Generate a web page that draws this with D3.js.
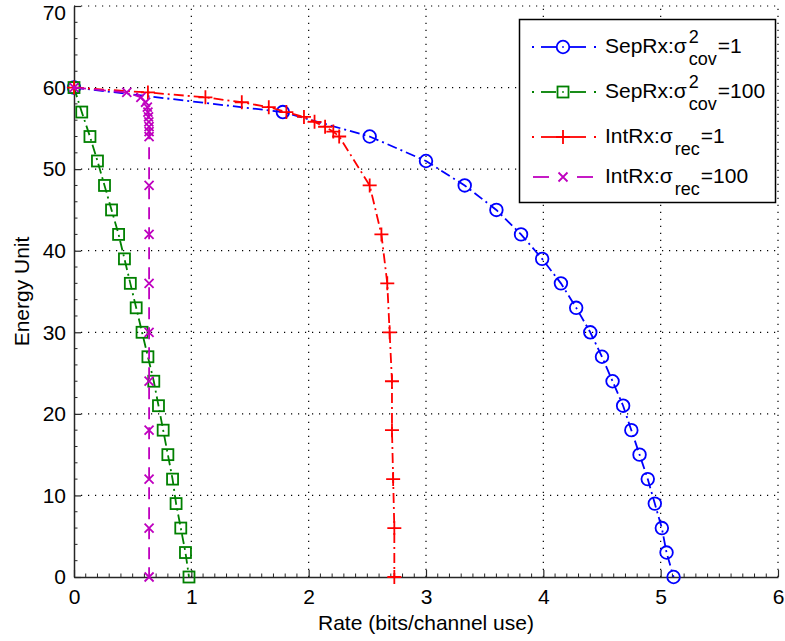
<!DOCTYPE html>
<html>
<head>
<meta charset="utf-8">
<script src="https://cdn.jsdelivr.net/npm/d3@7"></script>
<style>
  html, body { margin: 0; padding: 0; background: #fff; }
  svg { display: block; font-family: "Liberation Sans", Arial, Helvetica, sans-serif; }
</style>
</head>
<body>
<svg id="chart" width="785" height="641"></svg>
<script>
// Energy levels for the separate-receiver curves (step 3)
const energySep = [60,57,54,51,48,45,42,39,36,33,30,27,24,21,18,15,12,9,6,3,0];
// Energy levels for the integrated-receiver curves
const energyInt = [60,59.4,58.8,58.2,57.6,57,56.4,55.8,55.2,54.6,54,48,42,36,30,24,18,12,6,0];

const rateSep1   = [0,1.78,2.52,3.0,3.33,3.60,3.81,3.99,4.15,4.28,4.40,4.50,4.59,4.68,4.75,4.82,4.89,4.95,5.01,5.05,5.11];
const rateSep100 = [0,0.066,0.136,0.20,0.26,0.32,0.38,0.43,0.48,0.53,0.58,0.63,0.68,0.72,0.76,0.80,0.84,0.87,0.91,0.95,0.98];
const rateInt1   = [0,0.63,1.12,1.43,1.66,1.81,1.96,2.05,2.14,2.21,2.26,2.52,2.62,2.67,2.69,2.71,2.71,2.72,2.73,2.73];
const rateInt100 = [0,0.45,0.57,0.61,0.625,0.63,0.635,0.638,0.64,0.64,0.64,0.64,0.64,0.64,0.64,0.64,0.64,0.64,0.64,0.64];

const xTicks = [0,1,2,3,4,5,6];
const yTicks = [0,10,20,30,40,50,60,70];

const series = [
  { name: "SepRx", sup: "2", sub: "cov", tail: "=1",   rates: rateSep1,   energy: energySep, color: "#0000ff", marker: "circle", dash: "10,4,2,4", legendStyle: "dashdot" },
  { name: "SepRx", sup: "2", sub: "cov", tail: "=100", rates: rateSep100, energy: energySep, color: "#008000", marker: "square", dash: "10,4,2,4", legendStyle: "dashdot" },
  { name: "IntRx", sup: null, sub: "rec", tail: "=1",   rates: rateInt1,   energy: energyInt, color: "#ff0000", marker: "plus",   dash: "10,4,2,4", legendStyle: "dashdot" },
  { name: "IntRx", sup: null, sub: "rec", tail: "=100", rates: rateInt100, energy: energyInt, color: "#bf00bf", marker: "cross",  dash: "12,8",     legendStyle: "dash" }
];

const svg = d3.select("#chart");
const x = d3.scaleLinear().domain([0, 6]).range([74, 778]);
const y = d3.scaleLinear().domain([0, 70]).range([577, 6]);

// dotted grid
const grid = svg.append("g").attr("stroke", "#000").attr("stroke-width", 1.2).attr("stroke-dasharray", "1.2,5.8");
grid.selectAll("line.gx").data(xTicks.slice(1)).join("line")
  .attr("x1", d => x(d)).attr("x2", d => x(d)).attr("y1", y(0)).attr("y2", y(70));
grid.selectAll("line.gy").data(yTicks.slice(1)).join("line")
  .attr("x1", x(0)).attr("x2", x(6)).attr("y1", d => y(d)).attr("y2", d => y(d));

// axes: ticks pointing inward
const axisColor = "#262626";
const xAxis = svg.append("g").attr("transform", `translate(0,${y(0)})`)
  .call(d3.axisBottom(x).tickValues(xTicks).tickSizeInner(-7).tickSizeOuter(0).tickPadding(12).tickFormat(d3.format("d")));
const yAxis = svg.append("g").attr("transform", `translate(${x(0)},0)`)
  .call(d3.axisLeft(y).tickValues(yTicks).tickSizeInner(-7).tickSizeOuter(0).tickPadding(8).tickFormat(d3.format("d")));
[xAxis, yAxis].forEach(g => {
  g.select(".domain").attr("stroke", axisColor).attr("stroke-width", 1.5);
  g.selectAll(".tick line").attr("stroke", axisColor).attr("stroke-width", 1.2);
  g.selectAll(".tick text").attr("fill", "#000").attr("font-size", 21).attr("font-family", "Liberation Sans, Arial, sans-serif");
});
xAxis.selectAll(".tick text").attr("dy", "0.71em");
// keep the top label inside the canvas
yAxis.selectAll(".tick text").filter(d => d === 70).attr("dy", "0.64em");

// minor ticks
const minorX = d3.range(0, 60).map(i => i / 10).filter(v => Math.abs(v - Math.round(v)) > 1e-6);
svg.append("g").selectAll("line").data(minorX).join("line")
  .attr("x1", d => x(d)).attr("x2", d => x(d)).attr("y1", y(0)).attr("y2", y(0) - 3.5)
  .attr("stroke", axisColor).attr("stroke-width", 1);
const minorY = d3.range(0, 70, 2).filter(v => v % 10 !== 0);
svg.append("g").selectAll("line").data(minorY).join("line")
  .attr("x1", x(0)).attr("x2", x(0) + 3.5).attr("y1", d => y(d)).attr("y2", d => y(d))
  .attr("stroke", axisColor).attr("stroke-width", 1);

// axis titles
svg.append("text").attr("x", (x(0) + x(6)) / 2).attr("y", 630).attr("text-anchor", "middle")
  .attr("font-size", 21).text("Rate (bits/channel use)");
svg.append("text").attr("transform", `translate(29,${(y(0) + y(70)) / 2}) rotate(-90)`)
  .attr("text-anchor", "middle").attr("font-size", 21).text("Energy Unit");

// marker drawing
function drawMarker(g, kind, cx, cy, color) {
  const m = g.append("g").attr("transform", `translate(${cx},${cy})`)
    .attr("fill", "none").attr("stroke", color).attr("stroke-width", 1.8);
  if (kind === "circle") m.append("circle").attr("r", 6.3);
  else if (kind === "square") m.append("rect").attr("x", -5.5).attr("y", -5.5).attr("width", 11).attr("height", 11);
  else if (kind === "plus") m.append("path").attr("d", "M-7,0H7M0,-7V7");
  else if (kind === "cross") m.append("path").attr("d", "M-4.5,-4.5L4.5,4.5M-4.5,4.5L4.5,-4.5");
}

const line = d3.line().x(d => x(d[0])).y(d => y(d[1]));
series.forEach(s => {
  const pts = s.rates.map((r, i) => [r, s.energy[i]]);
  const g = svg.append("g");
  g.append("path").datum(pts).attr("d", line)
    .attr("fill", "none").attr("stroke", s.color).attr("stroke-width", 1.8)
    .attr("stroke-dasharray", s.dash);
  pts.forEach(p => drawMarker(g, s.marker, x(p[0]), y(p[1]), s.color));
});

// legend
const lg = svg.append("g");
lg.append("rect").attr("x", 519.5).attr("y", 19.5).attr("width", 256).attr("height", 183)
  .attr("fill", "#fff").attr("stroke", "#000").attr("stroke-width", 1.5);
const rowY = [47, 92, 137, 177];
series.forEach((s, i) => {
  const cy = rowY[i];
  const row = lg.append("g");
  const segs = s.legendStyle === "dashdot"
    ? [[532, 534], [541, 556], [570, 586], [594, 596]]
    : [[533, 549], [577, 593]];
  segs.forEach(([a, b]) => row.append("line").attr("x1", a).attr("x2", b).attr("y1", cy).attr("y2", cy)
    .attr("stroke", s.color).attr("stroke-width", 1.8));
  drawMarker(row, s.marker, 563, cy, s.color);
  if (s.marker === "circle" || s.marker === "square") {
    row.append("circle").attr("cx", 563).attr("cy", cy).attr("r", 0.9).attr("fill", s.color);
  }
  const base = cy + 6;
  const t0 = row.append("text").attr("x", 605).attr("y", base).attr("font-size", 21).text(s.name + ":\u03C3");
  const w0 = t0.node().getComputedTextLength();
  let w1 = 0, w2 = 0;
  const sx = 605 + w0 + 2;
  if (s.sup) {
    const ts = row.append("text").attr("x", sx).attr("y", base - 10).attr("font-size", 18).text(s.sup);
    w1 = ts.node().getComputedTextLength();
  }
  const tb = row.append("text").attr("x", sx).attr("y", base + 12).attr("font-size", 18).text(s.sub);
  w2 = tb.node().getComputedTextLength();
  row.append("text").attr("x", sx + Math.max(w1, w2) + 1).attr("y", base).attr("font-size", 21).text(s.tail);
});
</script>
</body>
</html>
